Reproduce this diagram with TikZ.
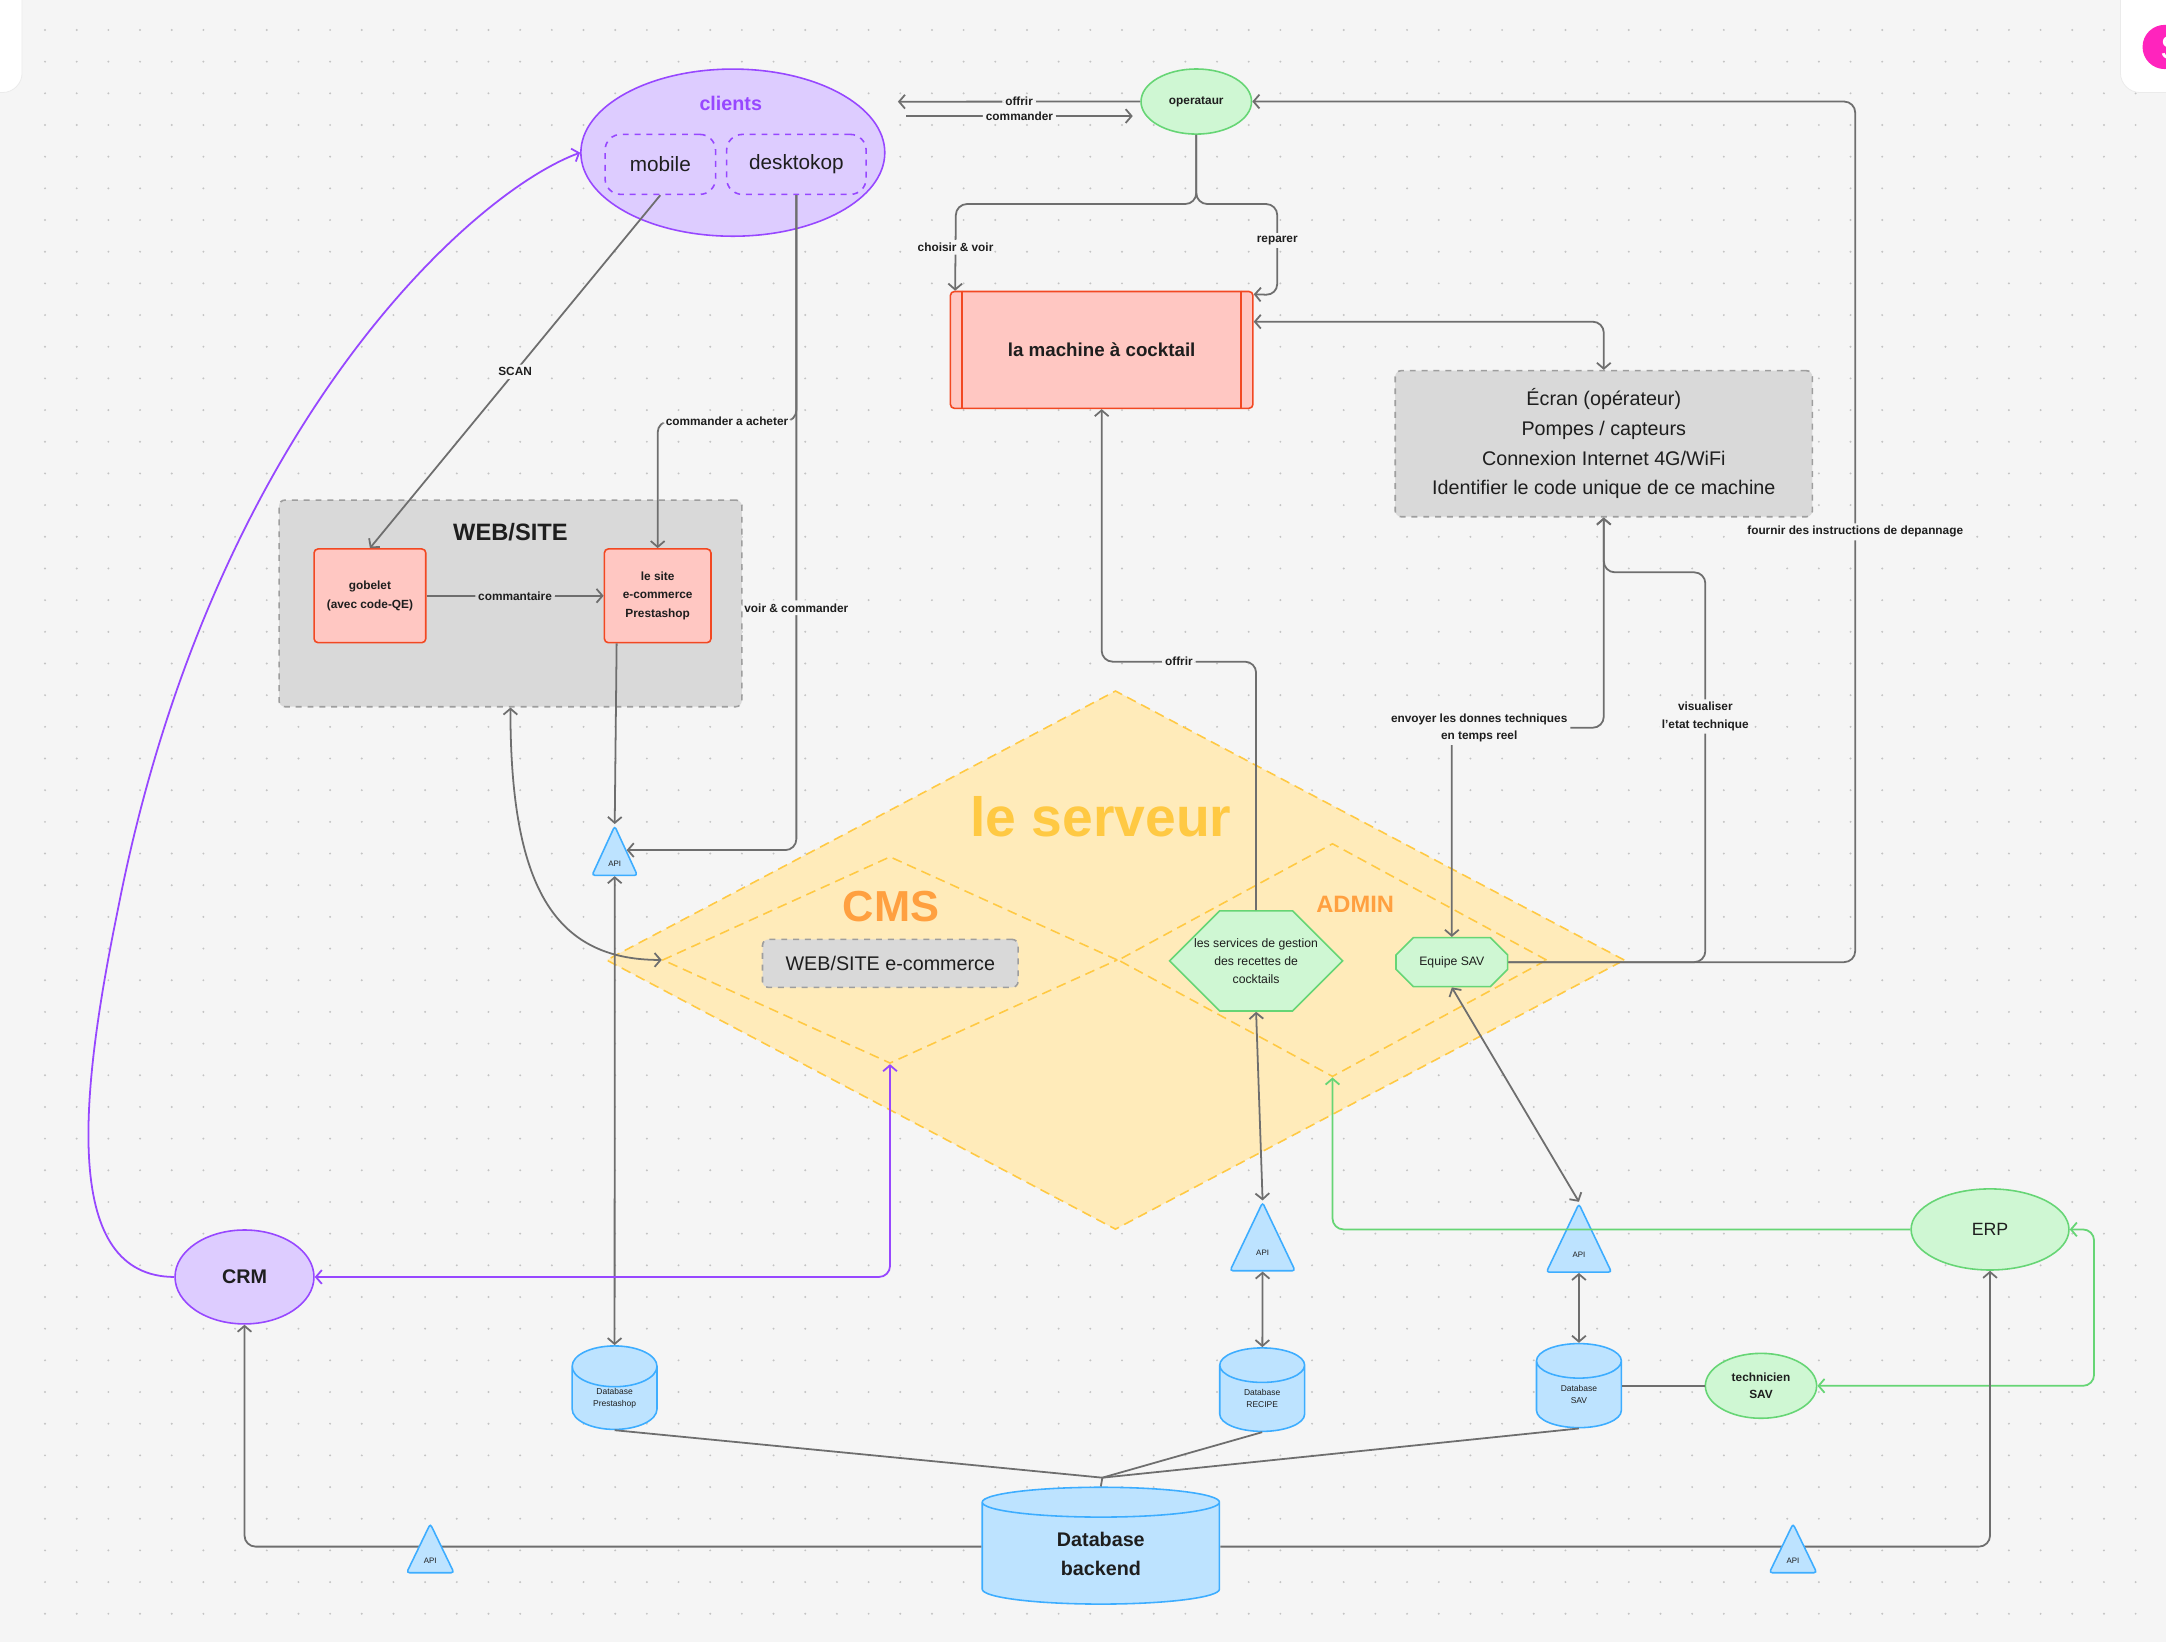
\documentclass[tikz,border=0pt]{standalone}
\usepackage{fontspec}
\setmainfont{Liberation Sans}
\usepackage{tikz}
\usetikzlibrary{arrows.meta, positioning, shapes.geometric, shapes.misc, calc}

\definecolor{bgc}{HTML}{F5F5F5}
\definecolor{dotc}{HTML}{C4C4C4}
\definecolor{ink}{HTML}{1E1E1E}
\definecolor{linec}{HTML}{6E6E6E}
\definecolor{purp}{HTML}{9747FF}
\definecolor{purpfill}{HTML}{DDCCFF}
\definecolor{grn}{HTML}{66D575}
\definecolor{grnfill}{HTML}{CFF7D3}
\definecolor{redc}{HTML}{F24822}
\definecolor{redfill}{HTML}{FFC7C2}
\definecolor{blu}{HTML}{3DADFF}
\definecolor{blufill}{HTML}{BDE3FF}
\definecolor{yel}{HTML}{FFC943}
\definecolor{yelfill}{HTML}{FFEBBA}
\definecolor{orng}{HTML}{FFA040}
\definecolor{boxgray}{HTML}{D9D9D9}
\definecolor{dashgray}{HTML}{9E9E9E}
\definecolor{pinkc}{HTML}{FF24BD}

\newcommand{\fsz}[2]{\fontsize{#1}{#2}\selectfont}

\tikzset{
  proc/.style   ={rectangle, draw=redc, thick, fill=redfill, rounded corners=2pt,
                  align=center, text=ink, font=\bfseries\fsz{6}{9.5}, inner sep=1pt},
  grpbox/.style ={rectangle, draw=dashgray, thick, dashed, fill=boxgray,
                  rounded corners=3pt, align=center, text=ink},
  pill/.style   ={rectangle, draw=purp, thick, dashed, rounded corners=8pt,
                  text=ink, font=\fsz{10.5}{12}},
  bubble/.style ={ellipse, draw=grn, thick, fill=grnfill, align=center,
                  text=ink, inner sep=0pt},
  pbubble/.style={ellipse, draw=purp, thick, fill=purpfill, align=center,
                  text=ink, inner sep=0pt},
  octo/.style   ={chamfered rectangle, draw=grn, thick, fill=grnfill, align=center,
                  text=ink, inner sep=0pt, font=\fsz{6.2}{9.1}},
  dbase/.style  ={cylinder, draw=blu, thick, fill=blufill, shape border rotate=90,
                  align=center, text=ink, inner sep=0pt},
  api/.style    ={isosceles triangle, isosceles triangle stretches,
                  shape border rotate=90, draw=blu, thick, fill=blufill,
                  rounded corners=1.5pt, inner sep=0pt, font=\fsz{4}{5}, text=ink},
  zone/.style   ={diamond, draw=yel, thick, dash pattern=on 5pt off 3pt, inner sep=0pt},
  ar/.style     ={-{Straight Barb[length=3pt,width=7pt]}, line width=0.9pt, linec,
                  rounded corners=5.6pt},
  dar/.style    ={{Straight Barb[length=3pt,width=7pt]}-{Straight Barb[length=3pt,width=7pt]},
                  line width=0.9pt, linec, rounded corners=5.6pt},
  ln/.style     ={line width=0.9pt, linec},
  el/.style     ={font=\bfseries\fsz{6}{8.8}, text=ink, fill=bgc, inner sep=1.5pt,
                  align=center}
}

\begin{document}
\begin{tikzpicture}[x=0.7pt, y=-0.7pt,
  gar/.style={ar, grn},
  gdar/.style={dar, grn},
  par/.style={ar, purp},
  pdar/.style={dar, purp}
]
\useasboundingbox (0,0) rectangle (1568,1189);
\fill[bgc] (0,0) rectangle (1568,1189);
\foreach \i in {0,...,67}
  \foreach \j in {0,...,50}
    \fill[dotc] (32.6+22.93*\i, 21.7+22.93*\j) circle (0.55pt);

% app chrome in the corners
\filldraw[white, draw=black!8, rounded corners=10pt] (-30,-30) rectangle (16,67);
\filldraw[white, draw=black!8, rounded corners=10pt] (1535,-30) rectangle (1620,67);
\fill[pinkc] (1567,34) circle (11.2pt);
\node[text=white, font=\fsz{17}{19}] (usr) at (1572,35) {S};

% server zones
\node[zone, fill=yelfill, minimum width=516pt, minimum height=273pt] (srv) at (807.5,695) {};
\node[zone, minimum width=230.6pt, minimum height=104.8pt] (cms) at (644.3,694.9) {};
\node[zone, minimum width=217.3pt, minimum height=118.2pt] (adm) at (964.6,695) {};
\node[font=\bfseries\fsz{28}{30}, text=yel] (srvt) at (797,591) {le serveur};
\node[font=\bfseries\fsz{22}{24}, text=orng] (cmst) at (645,656) {CMS};
\node[font=\bfseries\fsz{12}{14}, text=orng] (admt) at (981,655) {ADMIN};
\node[grpbox, minimum width=129.5pt, minimum height=24.3pt, font=\fsz{10}{12}]
      (wec) at (644.5,697.4) {WEB/SITE e-commerce};
\node[octo, minimum width=87.7pt, minimum height=48.2pt,
      chamfered rectangle xsep=19.8pt, chamfered rectangle ysep=14pt] (svc)
      at (909.3,695.6) {les services de gestion\\des recettes de\\cocktails};
\node[octo, minimum width=56.6pt, minimum height=24.8pt,
      chamfered rectangle xsep=7.9pt, chamfered rectangle ysep=5.9pt] (sav)
      at (1051,696.5) {Equipe SAV};

% clients and operator
\node[pbubble, minimum width=154pt, minimum height=84.7pt] (cli) at (530.5,110.5) {};
\node[font=\bfseries\fsz{10}{12}, text=purp] (clit) at (529,75) {clients};
\node[pill, minimum width=56pt, minimum height=30.4pt] (mob) at (478,119) {mobile};
\node[pill, minimum width=70.7pt, minimum height=30.4pt] (dsk) at (576.5,119) {desktokop};
\node[bubble, minimum width=56pt, minimum height=33pt, font=\bfseries\fsz{6}{8}]
      (op) at (866,73.5) {operataur};

% machine
\node[proc, minimum width=153.3pt, minimum height=59.2pt, font=\bfseries\fsz{9.5}{11}]
      (mc) at (797.5,253.3) {la machine à cocktail};
\draw[redc, thick] ([xshift=6.3pt]mc.north west) -- ([xshift=6.3pt]mc.south west);
\draw[redc, thick] ([xshift=-6.3pt]mc.north east) -- ([xshift=-6.3pt]mc.south east);
\node[grpbox, minimum width=211.4pt, minimum height=74pt, font=\fsz{10}{15}] (ec)
      at (1161,321.2) {Écran (opérateur)\\Pompes / capteurs\\Connexion Internet 4G/WiFi\\Identifier le code unique de ce machine};

% web site
\node[grpbox, minimum width=234.5pt, minimum height=104.7pt] (web) at (369.5,436.8) {};
\node[font=\bfseries\fsz{12}{14}, text=ink] (webt) at (369.5,385) {WEB/SITE};
\node[proc, minimum width=56.6pt, minimum height=47.5pt] (gob) at (267.8,431.3)
      {gobelet\\(avec code-QE)};
\node[proc, minimum width=54pt, minimum height=47.5pt] (ste) at (476.1,431.3)
      {le site\\e-commerce\\Prestashop};

% apis and databases
\node[api, anchor=apex, minimum width=23pt, minimum height=25pt] (api1) at (445,596.5) {API};
\node[api, anchor=apex, minimum width=33pt, minimum height=34.6pt] (api2) at (914,869) {API};
\node[api, anchor=apex, minimum width=33pt, minimum height=34.6pt] (api3) at (1143,870) {API};
\node[dbase, minimum width=43pt, minimum height=42.3pt, aspect=0.95, font=\fsz{4.3}{6.1}]
      (dbp) at (444.9,1012.2) {Database\\Prestashop};
\node[dbase, minimum width=43pt, minimum height=42.3pt, aspect=0.95, font=\fsz{4.3}{6.1}]
      (dbr) at (913.7,1012.5) {Database\\RECIPE};
\node[dbase, minimum width=43pt, minimum height=42.6pt, aspect=0.95, font=\fsz{4.3}{6.1}]
      (dbs) at (1143,1009.6) {Database\\SAV};
\node[dbase, minimum width=120.2pt, minimum height=59.2pt, aspect=0.34,
      font=\bfseries\fsz{10}{14.7}] (dbb) at (796.9,1124.6) {Database\\backend};

% crm, erp, technicien
\node[pbubble, minimum width=70.4pt, minimum height=47.6pt, font=\bfseries\fsz{10}{12}]
      (crm) at (177,924.4) {CRM};
\node[bubble, minimum width=80pt, minimum height=41.1pt, font=\fsz{9}{11}]
      (erp) at (1440.6,890) {ERP};
\node[bubble, minimum width=56.4pt, minimum height=32.9pt, font=\bfseries\fsz{6}{8.8}]
      (tec) at (1274.8,1003.2) {technicien\\SAV};

% connectors
\coordinate (of1) at (650,73.6);
\coordinate (cm0) at (656,84);
\coordinate (cm1) at (820,84);
\draw[ar] (op.west) -- node[el]{offrir} (of1);
\draw[ar] (cm0) -- node[el]{commander} (cm1);
\draw[ar] (op.south) -- (866,147.7) -- (692,147.7) --
      node[el]{choisir \& voir} ([xshift=2.8pt]mc.north west);
\draw[ar] (op.south) -- (866,147.7) -- (924.6,147.7) --
      node[el, pos=0.4]{reparer} (924.6,213.6) -- ([yshift=-1.8pt]mc.north east);
\draw[dar] ([yshift=14.3pt]mc.east) -| (ec.north);

\draw[ar] (mob.south) -- node[el]{SCAN} (gob.north);
\draw[ar] (dsk.south) -- (576.5,305) -- node[el]{commander a acheter} (476.1,305) -- (ste.north);
\draw[ar] (dsk.south) |- node[el, pos=0.315]{voir \& commander} (api1.right side);
\draw[ar] (gob.east) -- node[el, fill=boxgray]{commantaire} (ste.west);
\draw[ar] ([xshift=6.6pt]ste.south west) -- (api1.apex);
\draw[dar] (api1.lower side) -- (dbp);
\draw[dar] (web.south) .. controls (369.5,640) and (400,695) .. (cms.west);

\draw[ar] (svc.north) -- (909.3,479) -- node[el]{offrir} (797.5,479) -- (mc.south);
\draw[dar] (ec.south) -- (1161,526.8) --
      node[el, pos=0.82]{envoyer les donnes techniques\\en temps reel} (1051,526.8) -- (sav.north);
\draw[ar] (sav.east) -- (1234.5,696.5) --
      node[el, pos=0.63]{visualiser\\l'etat technique} (1234.5,414.3) -- (1161,414.3) -- (ec.south);
\draw[ar] (sav.east) -- (1343,696.5) --
      node[el]{fournir des instructions de depannage} (1343,73.5) -- (op.east);

\draw[dar] (svc.south) -- (api2.apex);
\draw[dar] (api2.lower side) -- (dbr);
\draw[dar] (sav.south) -- (api3.apex);
\draw[dar] (api3.lower side) -- (dbs);
\draw[ln] (dbs.east |- tec.west) -- (tec.west);
\draw[gar] (erp.west) -| (adm.south);
\draw[gdar] (erp.east) -- ++(17.6,0) |- (tec.east);
\draw[pdar] (cms.south) |- (crm.east);
\draw[par] (crm.west) .. controls (45,924) and (58,795) .. (85,660)
      .. controls (155,310) and (340,140) .. (cli.west);

\coordinate (jn) at (798,1069.7);
\draw[ln] (dbp.south) -- (jn);
\draw[ln] (dbr.south) -- (jn);
\draw[ln] (dbs.south) -- (jn);
\draw[ln] (jn) -- (dbb.north);
\draw[ar] ([yshift=3.5pt]dbb.west) -| (crm.south);
\draw[ar] ([yshift=3.5pt]dbb.east) -| (erp.south);
\node[api, anchor=apex, minimum width=24pt, minimum height=24.8pt] (api4) at (311.5,1101.6) {API};
\node[api, anchor=apex, minimum width=24pt, minimum height=24.8pt] (api5) at (1298,1101.6) {API};

\end{tikzpicture}
\end{document}
